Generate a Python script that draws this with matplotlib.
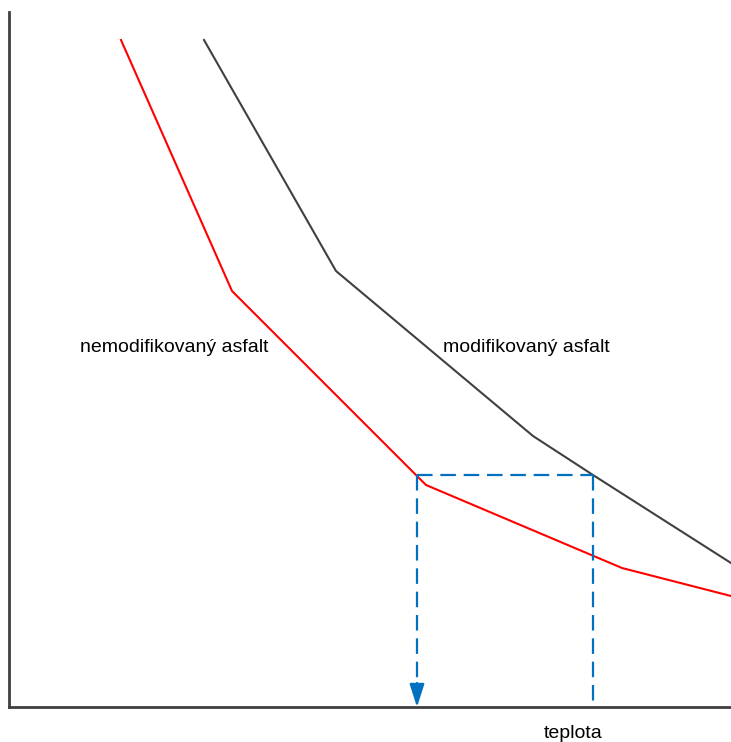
import matplotlib.pyplot as plt

# values (x = temperature, y = stiffness, arbitrary units)
red_x = [112, 223, 407, 417, 613, 722]
red_y = [667, 416, 232, 222, 139, 111]
gray_x = [195, 327, 524, 584, 722]
gray_y = [667, 436, 271, 232, 144]
# construction lines
level_y = 232
t_unmod = 408
t_mod = 584

plt.rcParams['font.family'] = ['Liberation Sans', 'DejaVu Sans']

fig = plt.figure(figsize=(7.31, 7.42), dpi=100)
ax = fig.add_axes([9 / 731, 35 / 742, 722 / 731, 695 / 742])
ax.set_xlim(0, 722)
ax.set_ylim(0, 695)

ax.plot(red_x, red_y, color='#ff0000', lw=1.5, clip_on=False)
ax.plot(gray_x, gray_y, color='#404040', lw=1.5, clip_on=False)

blue = '#0070c0'
dash = dict(color=blue, lw=1.6, linestyle=(0, (7, 3.5)))
ax.plot([t_unmod, t_mod], [level_y, level_y], **dash)
ax.plot([t_mod, t_mod], [level_y, 0], **dash)
ax.plot([t_unmod, t_unmod], [level_y, 22], **dash)
ax.annotate('', xy=(t_unmod, 0), xytext=(t_unmod, 24),
            arrowprops=dict(arrowstyle='-|>,head_length=1.4,head_width=0.45',
                            color=blue, lw=1.6, shrinkA=0, shrinkB=0))

ax.text(165, 360, 'nemodifikovaný asfalt', ha='center', va='center', fontsize=14)
ax.text(517, 360, 'modifikovaný asfalt', ha='center', va='center', fontsize=14)
ax.text(564, -27, 'teplota', ha='center', va='center', fontsize=14)

for s in ['top', 'right']:
    ax.spines[s].set_visible(False)
for s in ['left', 'bottom']:
    ax.spines[s].set_color('#404040')
    ax.spines[s].set_linewidth(2)
ax.set_xticks([])
ax.set_yticks([])

fig.savefig('out.png', dpi=100)
